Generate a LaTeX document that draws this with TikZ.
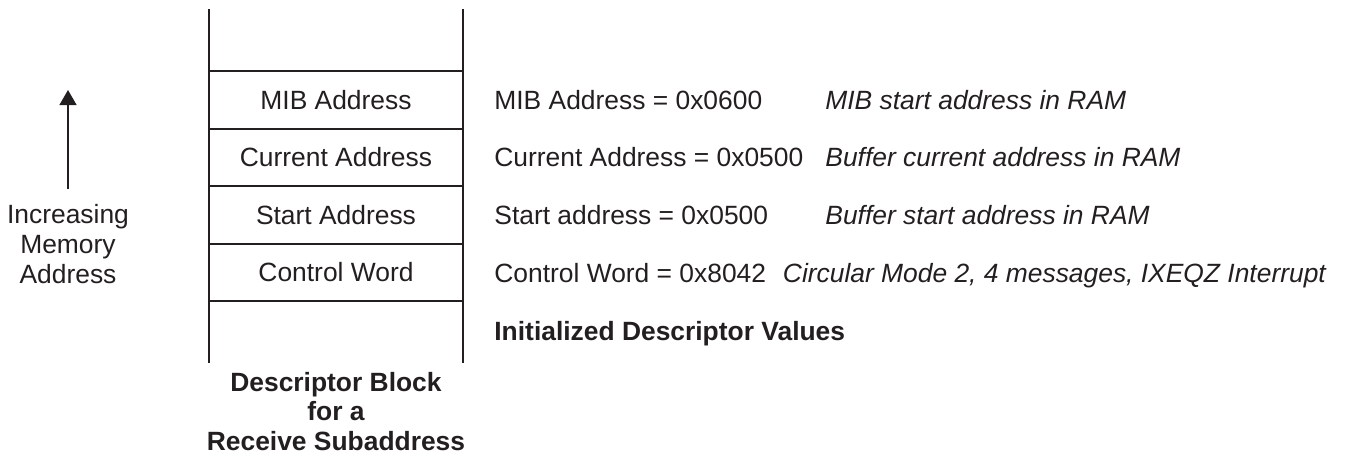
\documentclass[tikz,border=0pt]{standalone}
\usepackage{fontspec}
\setmainfont{Liberation Sans}
\usetikzlibrary{arrows.meta,positioning}
\definecolor{ink}{HTML}{231F20}

\begin{document}
\begin{tikzpicture}[
  x=0.5pt, y=-0.5pt,
  font=\fontsize{13.2}{15}\selectfont,
  color=ink,
  node distance=0pt and 8pt,
  cell/.style={draw=ink, line width=1pt, outer sep=0pt, minimum width=127pt, minimum height=28.75pt, align=center},
  wall/.style={draw=ink, line width=1.1pt},
  rise/.style={draw=ink, line width=0.6pt, -{Triangle[width=8.5pt,length=7.5pt]}},
  value/.style={inner sep=0pt, anchor=west, text height=9.45pt, text depth=0pt},
  remark/.style={value, font=\fontsize{13.2}{15}\selectfont\itshape},
  sidelabel/.style={align=center, inner sep=0pt},
  caption/.style={align=center, inner sep=0pt, font=\fontsize{13.2}{14.6}\selectfont\bfseries}
]
  \useasboundingbox (0,0) rectangle (1349,456);

  % descriptor block
  \node[cell] (mib) at (336,100) {MIB Address};
  \node[cell, below=of mib] (cur) {Current Address};
  \node[cell, below=of cur] (start) {Start Address};
  \node[cell, below=of start] (ctrl) {Control Word};
  \draw[wall] ([yshift=31pt]mib.north west) -- ([yshift=-31pt]ctrl.south west);
  \draw[wall] ([yshift=31pt]mib.north east) -- ([yshift=-31pt]ctrl.south east);
  \node[caption, below=35.5pt of ctrl] (blockcap) {Descriptor Block\\for a\\Receive Subaddress};

  % memory direction
  \node[sidelabel, anchor=north] (incr) at (68,204) {Increasing\\Memory\\Address};
  \coordinate (tail) at (68,189);
  \coordinate (tip) at (68,90);
  \draw[rise] (tail) -- (tip);

  % initial values
  \node[value] (vmib) at (494,100) {MIB Address = 0x0600};
  \node[remark] (rmib) at (825,100) {MIB start address in RAM};
  \node[value] (vcur) at (494,157.5) {Current Address = 0x0500};
  \node[remark] (rcur) at (825,157.5) {Buffer current address in RAM};
  \node[value] (vstart) at (494,215) {Start address = 0x0500};
  \node[remark] (rstart) at (825,215) {Buffer start address in RAM};
  \node[value] (vctrl) at (494,273) {Control Word = 0x8042};
  \node[remark, right=of vctrl] (rctrl) {Circular Mode 2, 4 messages, IXEQZ Interrupt};
  \node[value, font=\fontsize{13.2}{15}\selectfont\bfseries] (init) at (494,331) {Initialized Descriptor Values};
\end{tikzpicture}
\end{document}
